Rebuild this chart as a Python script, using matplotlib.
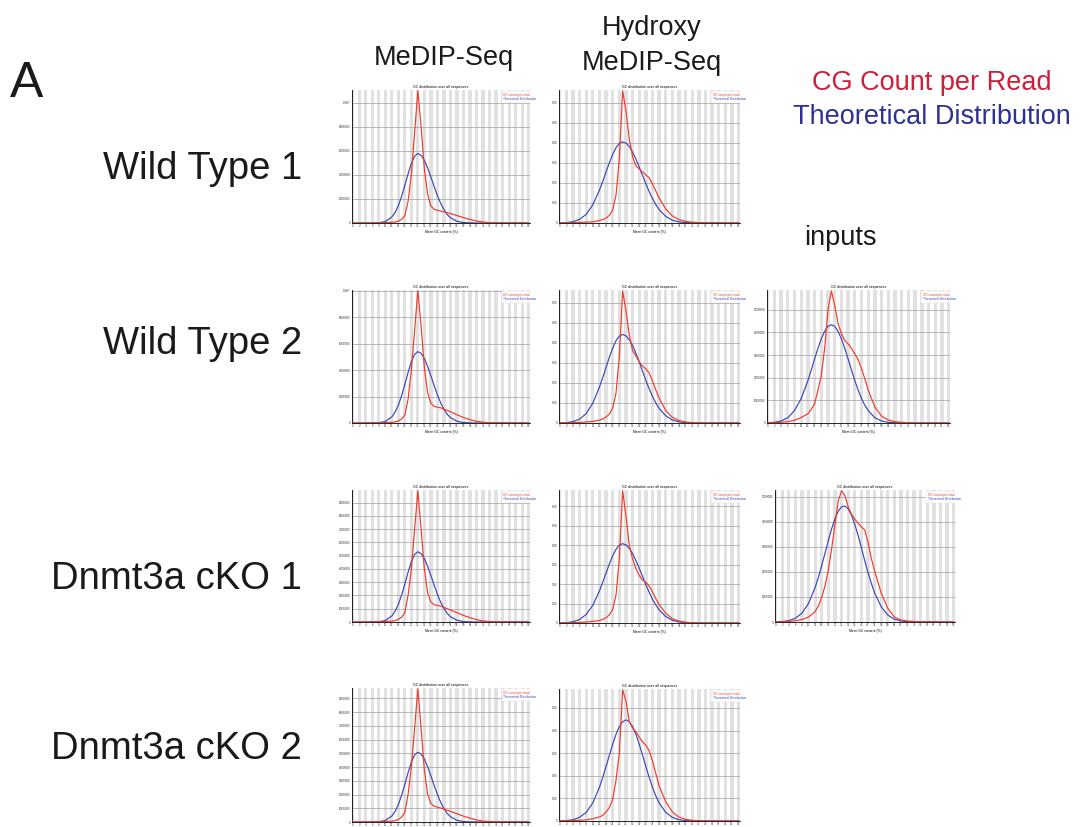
import matplotlib
matplotlib.use("Agg")
import matplotlib.pyplot as plt
from matplotlib.patches import Rectangle
from matplotlib.transforms import Bbox, TransformedBbox

W, H = 1081, 827
plt.rcParams['font.family'] = ['Liberation Sans', 'DejaVu Sans']

# x positions of the FastQC GC categories (label slots 0..27)
gc_pos = [0, 1, 2, 3, 4, 5, 6, 6.5, 7, 7.5, 8, 8.5, 9, 9.5, 10, 10.5, 11, 11.5,
          12, 12.5, 13, 13.5, 14, 14.5, 15, 16, 17, 18, 19, 20, 21, 22, 27]
gc_tick_labels = ['0', '2', '4', '6', '8', '11', '15', '19', '23', '27', '31', '35',
                  '39', '43', '47', '51', '55', '59', '63', '67', '71', '75', '79',
                  '83', '87', '91', '95', '99']

# read counts, in millions
wt1_medip_gc = [0, 0, 0, 0.01, 0.02, 0.03, 0.06, 0.08, 0.15, 0.3, 0.6, 1.8, 4.0, 7.5, 11.0, 8.0, 4.5,
                2.4, 1.4, 1.15, 1.05, 1.0, 0.92, 0.85, 0.78, 0.62, 0.45, 0.3, 0.17, 0.08, 0.03, 0.01, 0]
wt1_medip_theory = [0, 0, 0, 0.003, 0.02, 0.12, 0.49, 0.87, 1.44, 2.2, 3.12, 4.09, 4.95, 5.56, 5.78, 5.63,
                    5.21, 4.58, 3.83, 3.03, 2.28, 1.63, 1.11, 0.71, 0.44, 0.14, 0.036, 0.008, 0, 0, 0, 0, 0]

wt2_medip_gc = [0, 0, 0, 0.01, 0.02, 0.03, 0.05, 0.08, 0.15, 0.3, 0.6, 1.8, 4.0, 7.0, 10.0, 7.3, 4.2,
                2.3, 1.5, 1.25, 1.2, 1.15, 1.05, 0.95, 0.85, 0.62, 0.42, 0.25, 0.13, 0.06, 0.02, 0.01, 0]
wt2_medip_theory = [0, 0, 0, 0.003, 0.02, 0.11, 0.46, 0.82, 1.34, 2.06, 2.91, 3.82, 4.63, 5.19, 5.4, 5.26,
                    4.87, 4.28, 3.57, 2.83, 2.13, 1.52, 1.04, 0.66, 0.41, 0.13, 0.034, 0.008, 0, 0, 0, 0, 0]

cko1_medip_gc = [0, 0, 0, 0.01, 0.02, 0.04, 0.07, 0.1, 0.2, 0.35, 0.7, 2.0, 4.0, 7.0, 9.9, 7.0, 4.0,
                 2.2, 1.5, 1.3, 1.25, 1.2, 1.1, 1.0, 0.9, 0.7, 0.5, 0.32, 0.18, 0.08, 0.03, 0.01, 0]
cko1_medip_theory = [0, 0, 0, 0.003, 0.02, 0.11, 0.45, 0.8, 1.32, 2.02, 2.86, 3.75, 4.54, 5.1, 5.3, 5.16,
                     4.78, 4.2, 3.51, 2.78, 2.09, 1.49, 1.02, 0.65, 0.4, 0.13, 0.033, 0.007, 0, 0, 0, 0, 0]

cko2_medip_gc = [0, 0, 0, 0.01, 0.02, 0.04, 0.06, 0.1, 0.18, 0.35, 0.7, 2.0, 4.0, 6.8, 9.7, 6.8, 3.8,
                 2.0, 1.35, 1.15, 1.08, 1.02, 0.95, 0.85, 0.78, 0.6, 0.42, 0.28, 0.15, 0.07, 0.03, 0.01, 0]
cko2_medip_theory = [0, 0, 0, 0.003, 0.02, 0.11, 0.43, 0.77, 1.26, 1.94, 2.74, 3.59, 4.35, 4.89, 5.08, 4.95,
                     4.58, 4.02, 3.36, 2.66, 2.01, 1.43, 0.98, 0.62, 0.39, 0.12, 0.032, 0.007, 0, 0, 0, 0, 0]

wt1_hmedip_gc = [0.01, 0.01, 0.02, 0.03, 0.04, 0.06, 0.12, 0.17, 0.25, 0.38, 0.65, 1.4, 3.2, 6.6, 5.6, 4.2,
                 3.3, 2.85, 2.7, 2.55, 2.4, 2.25, 1.95, 1.6, 1.25, 0.7, 0.35, 0.17, 0.08, 0.04, 0.02, 0.01, 0]
wt1_hmedip_theory = [0.005, 0.02, 0.065, 0.18, 0.43, 0.91, 1.64, 2.08, 2.55, 3.01, 3.43, 3.76, 3.98, 4.05,
                     3.99, 3.82, 3.54, 3.19, 2.79, 2.37, 1.96, 1.56, 1.22, 0.92, 0.67, 0.33, 0.14, 0.055,
                     0.02, 0.006, 0.0015, 0, 0]

wt2_hmedip_gc = [0.01, 0.01, 0.02, 0.03, 0.05, 0.08, 0.14, 0.2, 0.3, 0.45, 0.75, 1.5, 3.3, 6.6, 5.6, 4.4,
                 3.6, 3.35, 3.05, 2.85, 2.7, 2.5, 2.1, 1.65, 1.25, 0.62, 0.28, 0.12, 0.05, 0.02, 0.01, 0, 0]
wt2_hmedip_theory = [0.006, 0.02, 0.07, 0.19, 0.47, 0.99, 1.79, 2.27, 2.78, 3.29, 3.74, 4.11, 4.34, 4.42,
                     4.35, 4.16, 3.87, 3.48, 3.05, 2.59, 2.13, 1.71, 1.33, 1.0, 0.73, 0.36, 0.15, 0.06,
                     0.02, 0.006, 0.002, 0, 0]

cko1_hmedip_gc = [0.01, 0.01, 0.02, 0.03, 0.05, 0.08, 0.13, 0.18, 0.27, 0.42, 0.7, 1.45, 3.3, 6.8, 5.5, 4.0,
                  3.3, 2.8, 2.45, 2.2, 2.1, 1.9, 1.6, 1.25, 0.95, 0.5, 0.22, 0.1, 0.04, 0.015, 0.005, 0, 0]
cko1_hmedip_theory = [0.005, 0.02, 0.065, 0.18, 0.44, 0.91, 1.65, 2.1, 2.57, 3.04, 3.46, 3.79, 4.01, 4.08,
                      4.02, 3.84, 3.57, 3.21, 2.82, 2.39, 1.97, 1.58, 1.22, 0.93, 0.68, 0.33, 0.14, 0.056,
                      0.02, 0.006, 0.0015, 0, 0]

cko2_hmedip_gc = [0.01, 0.01, 0.02, 0.03, 0.05, 0.1, 0.18, 0.25, 0.4, 0.6, 0.95, 1.8, 3.0, 5.8, 5.3, 4.4,
                  4.1, 3.95, 3.7, 3.5, 3.35, 3.1, 2.65, 2.1, 1.55, 0.85, 0.4, 0.17, 0.07, 0.03, 0.01, 0, 0]
cko2_hmedip_theory = [0.004, 0.017, 0.056, 0.16, 0.38, 0.8, 1.49, 1.93, 2.41, 2.91, 3.4, 3.83, 4.17, 4.39,
                      4.47, 4.39, 4.17, 3.83, 3.4, 2.91, 2.41, 1.93, 1.49, 1.11, 0.8, 0.38, 0.16, 0.056,
                      0.017, 0.004, 0.001, 0, 0]

wt2_input_gc = [0.01, 0.02, 0.03, 0.06, 0.12, 0.24, 0.41, 0.6, 0.85, 1.45, 2.1, 3.3, 5.0, 5.84, 5.2, 4.4,
                3.95, 3.65, 3.5, 3.3, 3.05, 2.8, 2.4, 1.95, 1.45, 0.7, 0.3, 0.13, 0.06, 0.03, 0.01, 0, 0]
wt2_input_theory = [0.01, 0.03, 0.09, 0.23, 0.55, 1.08, 1.87, 2.34, 2.83, 3.3, 3.72, 4.05, 4.27, 4.34,
                    4.27, 4.05, 3.72, 3.3, 2.83, 2.34, 1.87, 1.45, 1.08, 0.78, 0.55, 0.23, 0.09, 0.03,
                    0.01, 0.003, 0.001, 0, 0]

cko1_input_gc = [0.01, 0.01, 0.02, 0.05, 0.1, 0.2, 0.42, 0.65, 1.0, 1.45, 2.1, 2.95, 3.9, 4.85, 5.24, 5.05,
                 4.6, 4.3, 4.1, 3.95, 3.8, 3.68, 3.2, 2.55, 2.05, 1.16, 0.55, 0.2, 0.08, 0.04, 0.02, 0.01, 0]
cko1_input_theory = [0.005, 0.018, 0.054, 0.15, 0.355, 0.75, 1.39, 1.8, 2.27, 2.76, 3.26, 3.73, 4.13, 4.43,
                     4.6, 4.63, 4.52, 4.27, 3.9, 3.46, 2.97, 2.46, 1.98, 1.55, 1.17, 0.61, 0.28, 0.11,
                     0.04, 0.012, 0.003, 0.001, 0]

row_labels = ['Wild Type 1', 'Wild Type 2', 'Dnmt3a cKO 1', 'Dnmt3a cKO 2']

RED = '#f03a2a'
BLUE = '#3b46b4'

fig = plt.figure(figsize=(W / 100, H / 100), dpi=100)


def px_rect(x0, y0, x1, y1):
    return [x0 / W, 1 - y1 / H, (x1 - x0) / W, (y1 - y0) / H]


def draw_panel(gc, theory, box, step, clip_x=None):
    ax = fig.add_axes(px_rect(*box))
    ymax = max(gc) * 1.006
    # FastQC style alternating background stripes
    for k in range(28):
        ax.axvspan(k - 0.25, k + 0.25, color='#e1e1e1', lw=0, zorder=0)
    ticks = [t * step for t in range(int(ymax // step) + 1)]
    for t in ticks[1:]:
        ax.axhline(t, color='#a0a0a0', lw=0.5, zorder=1)
    ax.plot(gc_pos, theory, color=BLUE, lw=0.85, zorder=3)
    ax.plot(gc_pos, gc, color=RED, lw=0.85, zorder=4)
    ax.set_xlim(-0.1, 27.2)
    ax.set_ylim(0, ymax)
    ax.set_xticks(range(28))
    ax.set_xticklabels(gc_tick_labels)
    ax.set_yticks(ticks)
    ax.set_yticklabels(['0' if t == 0 else ('1.0E7' if t >= 10 else str(int(t * 1e6))) for t in ticks])
    ax.tick_params(length=0, labelsize=2.2, pad=1, labelcolor='#333333')
    for s in ['top', 'right']:
        ax.spines[s].set_visible(False)
    for s in ['left', 'bottom']:
        ax.spines[s].set_linewidth(0.6)
    ax.set_title('GC distribution over all sequences', fontsize=2.6, pad=1.5)
    # bottom row is cropped in the original, the axis title falls off the page
    if box[3] < 800:
        ax.set_xlabel('Mean GC content (%)', fontsize=2.4, labelpad=1.5)
    ax.add_patch(Rectangle((0.84, 0.905), 0.16, 0.085, transform=ax.transAxes,
                           facecolor='white', edgecolor='#dddddd', lw=0.3, zorder=5))
    ax.text(0.85, 0.965, 'GC count per read', color=RED, fontsize=2.3,
            transform=ax.transAxes, va='center', zorder=6)
    ax.text(0.85, 0.93, 'Theoretical Distribution', color=BLUE, fontsize=2.3,
            transform=ax.transAxes, va='center', zorder=6)
    if clip_x is not None:
        clip = TransformedBbox(Bbox([[clip_x / W, 0], [1, 1]]), fig.transFigure)
        for lab in ax.get_yticklabels():
            lab.set_clip_box(clip)
            lab.set_clip_on(True)
    return ax


panels = [
    (wt1_medip_gc, wt1_medip_theory, (352, 90, 530, 223), 2, None),
    (wt2_medip_gc, wt2_medip_theory, (352, 290, 530, 423), 2, None),
    (cko1_medip_gc, cko1_medip_theory, (352, 490, 530, 622), 1, None),
    (cko2_medip_gc, cko2_medip_theory, (352, 688, 530, 822), 1, None),
    (wt1_hmedip_gc, wt1_hmedip_theory, (559, 90, 740, 223), 1, 552),
    (wt2_hmedip_gc, wt2_hmedip_theory, (559, 290, 740, 423), 1, 552),
    (cko1_hmedip_gc, cko1_hmedip_theory, (559, 490, 740, 623), 1, 552),
    (cko2_hmedip_gc, cko2_hmedip_theory, (559, 689, 740, 821), 1, 552),
    (wt2_input_gc, wt2_input_theory, (767, 290, 950, 423), 1, None),
    (cko1_input_gc, cko1_input_theory, (775, 490, 955, 622), 1, None),
]
for gc, theory, box, step, clip_x in panels:
    draw_panel(gc, theory, box, step, clip_x)


def label(x, y, s, size, ha='center', color='#1a1a1a'):
    fig.text(x / W, 1 - y / H, s, fontsize=size, ha=ha, va='baseline', color=color)


label(10, 97, 'A', 36, ha='left')
label(444, 65, 'MeDIP-Seq', 19.5)
label(652, 35, 'Hydroxy', 19.5)
label(652, 70, 'MeDIP-Seq', 19.5)
label(932, 90, 'CG Count per Read', 19.5, color='#cc1f3a')
label(932, 124, 'Theoretical Distribution', 19.5, color='#2e3192')
label(840, 245, 'inputs', 19.5)
for name, yb in zip(row_labels, [179, 354, 589, 759]):
    label(302, yb, name, 27.5, ha='right')

fig.savefig('out.png', dpi=100)
